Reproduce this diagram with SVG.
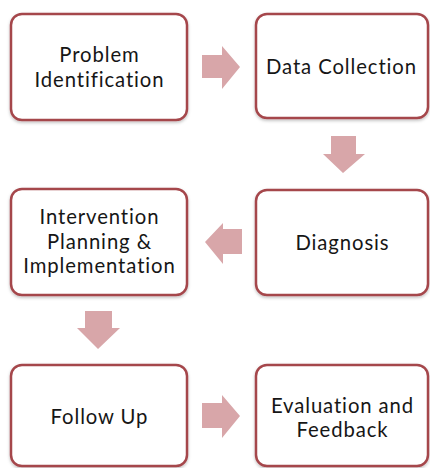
<svg xmlns="http://www.w3.org/2000/svg" width="430" height="468" viewBox="0 0 430 468">
<defs>
<filter id="sh" x="-10%" y="-10%" width="120%" height="125%">
<feDropShadow dx="0" dy="1.5" stdDeviation="1.5" flood-color="#000" flood-opacity="0.25"/>
</filter>
<style>
.box{fill:#fff;stroke:#a5474c;stroke-width:2.5;filter:url(#sh)}
.arr{fill:#d8a6a9}
text{font-family:Lato,"Open Sans",sans-serif;font-size:20.3px;letter-spacing:0.9px;fill:#161616;text-anchor:middle}
</style>
</defs>
<rect width="430" height="468" fill="#fff"/>
<g id="connectors">
<polygon class="arr" points="202,55 222,55 222,46 240,67 222,89 222,78 202,78"/>
<polygon class="arr" points="331,136 356,136 356,154 365,154 343,173 323,154 331,154"/>
<polygon class="arr" points="242,229 223,229 223,223 205,242 223,264 223,254 242,254"/>
<polygon class="arr" points="85,311 112,311 112,328 120,328 98,349 77,328 85,328"/>
<polygon class="arr" points="202,403 222,403 222,395 240,416 222,438 222,428 202,428"/>
</g>
<g id="n1">
<rect class="box" x="11" y="14" width="176" height="106" rx="11"/>
<text x="99.5" y="62">Problem</text>
<text x="99.5" y="86.5">Identification</text>
</g>
<g id="n2">
<rect class="box" x="256" y="14" width="172" height="104" rx="11"/>
<text x="341.5" y="74">Data Collection</text>
</g>
<g id="n3">
<rect class="box" x="11" y="189" width="176" height="106" rx="11"/>
<text x="99.5" y="224">Intervention</text>
<text x="99.5" y="248.5">Planning &amp;</text>
<text x="99.5" y="273">Implementation</text>
</g>
<g id="n4">
<rect class="box" x="256" y="190" width="172" height="105" rx="11"/>
<text x="342.5" y="250">Diagnosis</text>
</g>
<g id="n5">
<rect class="box" x="11" y="365" width="176" height="101" rx="11"/>
<text x="99.5" y="424">Follow Up</text>
</g>
<g id="n6">
<rect class="box" x="256" y="365" width="172" height="101" rx="11"/>
<text x="342.5" y="412.5">Evaluation and</text>
<text x="342.5" y="437">Feedback</text>
</g>
</svg>
